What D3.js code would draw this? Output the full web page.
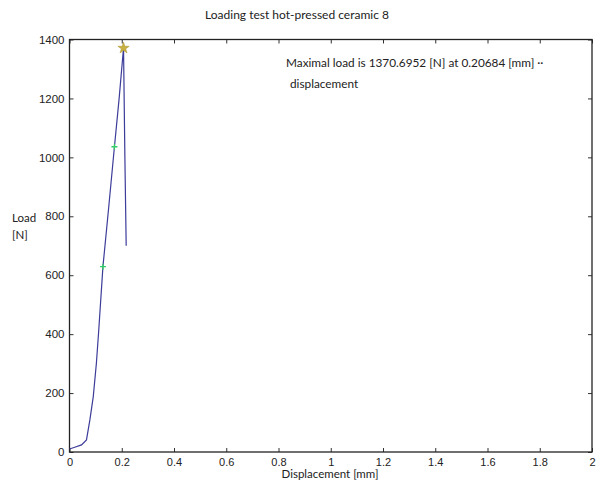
<!DOCTYPE html>
<html>
<head>
<meta charset="utf-8">
<script src="https://cdn.jsdelivr.net/npm/d3@7"></script>
<style>
  body { margin: 0; background: #fff; }
  svg text { fill: #222; }
</style>
</head>
<body>
<div id="chart"></div>
<script>
// load curve
var disp = [0, 0.02, 0.046, 0.065, 0.078, 0.091, 0.103, 0.112, 0.128, 0.15, 0.172, 0.19, 0.2068, 0.212, 0.217];
var load = [10, 16, 24, 41, 109, 188, 302, 414, 629, 830, 1036, 1200, 1371, 1000, 700];

// marked points
var markDisp = [0.128, 0.172];
var markLoad = [629, 1036];
var peakDisp = 0.20684;
var peakLoad = 1370.6952;

var xTicks = [0, 0.2, 0.4, 0.6, 0.8, 1, 1.2, 1.4, 1.6, 1.8, 2];
var yTicks = [0, 200, 400, 600, 800, 1000, 1200, 1400];

var width = 596, height = 484;
// plot box (don't use "top" - it's window.top)
var pLeft = 69.5, pRight = 592, pTop = 39.5, pBottom = 452;

var svg = d3.select("#chart").append("svg")
    .attr("width", width)
    .attr("height", height);

var x = d3.scaleLinear().domain([0, 2]).range([pLeft, pRight]);
var y = d3.scaleLinear().domain([0, 1400]).range([pBottom, pTop]);

var tickFont = "'Liberation Sans', Arial, sans-serif";
var labelFont = "Lato, 'Open Sans', sans-serif";

// axes, ticks pointing inward
svg.append("g")
    .attr("transform", "translate(0," + pBottom + ")")
    .call(d3.axisBottom(x).tickValues(xTicks).tickSizeInner(-4).tickSizeOuter(0).tickPadding(6).tickFormat(d3.format("~g")))
    .call(g => g.selectAll("text").style("font-family", tickFont).style("font-size", "11px"));

svg.append("g")
    .attr("transform", "translate(0," + pTop + ")")
    .call(d3.axisTop(x).tickValues(xTicks).tickSizeInner(-4).tickSizeOuter(0).tickFormat(""));

svg.append("g")
    .attr("transform", "translate(" + pLeft + ",0)")
    .call(d3.axisLeft(y).tickValues(yTicks).tickSizeInner(-4).tickSizeOuter(0).tickPadding(5).tickFormat(d3.format("d")))
    .call(g => g.selectAll("text").style("font-family", tickFont).style("font-size", "11.5px"));

svg.append("g")
    .attr("transform", "translate(" + pRight + ",0)")
    .call(d3.axisRight(y).tickValues(yTicks).tickSizeInner(-4).tickSizeOuter(0).tickFormat(""));

svg.selectAll(".domain").remove();
svg.selectAll(".tick line").attr("stroke", "#333");

// frame
svg.append("rect")
    .attr("x", pLeft)
    .attr("y", pTop)
    .attr("width", pRight - pLeft)
    .attr("height", pBottom - pTop)
    .attr("fill", "none")
    .attr("stroke", "#222")
    .attr("stroke-width", 1.3);

var pts = disp.map(function (d, i) { return [d, load[i]]; });

svg.append("path")
    .datum(pts)
    .attr("d", d3.line().x(d => x(d[0])).y(d => y(d[1])))
    .attr("fill", "none")
    .attr("stroke", "#3c3c9a")
    .attr("stroke-width", 1.2);

// green markers
markDisp.forEach(function (d, i) {
    var cx = x(d), cy = y(markLoad[i]);
    svg.append("path")
        .attr("d", "M" + (cx - 3) + "," + cy + "H" + (cx + 3) + "M" + cx + "," + (cy - 3) + "V" + (cy + 3))
        .attr("stroke", "#33cc66")
        .attr("stroke-width", 1.3);
});

// peak star
var star = d3.symbol().type(d3.symbolStar).size(40);
svg.append("path")
    .attr("d", star())
    .attr("transform", "translate(" + x(peakDisp) + "," + y(peakLoad) + ")")
    .attr("fill", "#c8b040")
    .attr("stroke", "#a89030")
    .attr("stroke-width", 0.5);

// texts
svg.append("text")
    .attr("x", 297)
    .attr("y", 19)
    .attr("text-anchor", "middle")
    .style("font-family", labelFont)
    .style("font-size", "12px")
    .text("Loading test hot-pressed ceramic 8");

svg.append("text")
    .attr("x", 330)
    .attr("y", 478)
    .attr("text-anchor", "middle")
    .style("font-family", labelFont)
    .style("font-size", "11.5px")
    .text("Displacement [mm]");

svg.append("text")
    .attr("x", 12)
    .attr("y", 222)
    .style("font-family", labelFont)
    .style("font-size", "11.5px")
    .text("Load");

svg.append("text")
    .attr("x", 12)
    .attr("y", 239)
    .style("font-family", labelFont)
    .style("font-size", "11.5px")
    .text("[N]");

svg.append("text")
    .attr("x", 286)
    .attr("y", 67)
    .style("font-family", labelFont)
    .style("font-size", "11.8px")
    .text("Maximal load is 1370.6952 [N] at 0.20684 [mm] \u00b7\u00b7");

svg.append("text")
    .attr("x", 290)
    .attr("y", 88)
    .style("font-family", labelFont)
    .style("font-size", "11.8px")
    .text("displacement");
</script>
</body>
</html>
